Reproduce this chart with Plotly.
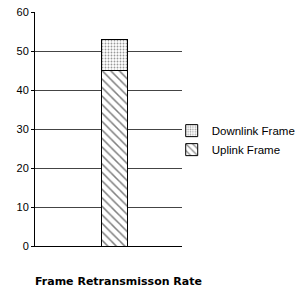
import plotly.graph_objects as go

categories = [""]
uplink = [45]
downlink = [8]
y_ticks = [0, 10, 20, 30, 40, 50, 60]
grid_ticks = [10, 20, 30, 40, 50]
title_text = "Frame Retransmisson Rate"

font = "Liberation Sans"

fig = go.Figure()
fig.add_trace(go.Bar(
    x=[0], y=uplink, name="Uplink Frame", width=0.177,
    marker=dict(color="white", line=dict(color="black", width=1),
                pattern=dict(shape="\\", fgcolor="black", bgcolor="white", size=6, solidity=0.25)),
))
fig.add_trace(go.Bar(
    x=[0], y=downlink, name="Downlink Frame", width=0.177,
    marker=dict(color="white", line=dict(color="black", width=1),
                pattern=dict(shape=".", fgcolor="#333333", bgcolor="white", size=3, solidity=0.3)),
))

# invisible trace on second y axis for gridlines only
fig.add_trace(go.Scatter(x=[0], y=[0], yaxis="y2", showlegend=False, hoverinfo="skip",
                         mode="markers", marker=dict(opacity=0)))

fig.update_layout(
    barmode="stack",
    width=300, height=290,
    margin=dict(l=35, r=118, t=12, b=44, autoexpand=False),
    plot_bgcolor="white", paper_bgcolor="white",
    font=dict(family=font, size=11, color="black"),
    xaxis=dict(range=[-0.544, 0.456], showticklabels=False, showgrid=False, zeroline=False,
               showline=True, linecolor="black", linewidth=1, ticks="", automargin=False),
    yaxis=dict(range=[0, 60], tickvals=y_ticks, showgrid=False, zeroline=False,
               showline=True, linecolor="black", linewidth=1, ticks="outside", ticklen=3,
               tickcolor="black", tickfont=dict(size=11), automargin=False),
    yaxis2=dict(range=[0, 60], tickvals=grid_ticks, overlaying="y", showgrid=True,
                gridcolor="#444444", gridwidth=1, showticklabels=False, zeroline=False,
                side="left", layer="below traces", automargin=False),
    legend=dict(x=0.93, y=0.555, xanchor="left", yanchor="top", traceorder="reversed",
                font=dict(size=11.5), bgcolor="rgba(0,0,0,0)", tracegroupgap=0,
                itemwidth=30),
    showlegend=True,
    annotations=[dict(text="<b>" + title_text + "</b>", x=-0.015, y=-0.15, xref="paper", yref="paper",
                      xanchor="left", yanchor="middle", showarrow=False,
                      font=dict(size=11, family="DejaVu Sans"))],
)

fig.write_html("out.html", config={"displayModeBar": False},
               post_script="document.body.style.margin='0';document.body.style.overflow='hidden';")
